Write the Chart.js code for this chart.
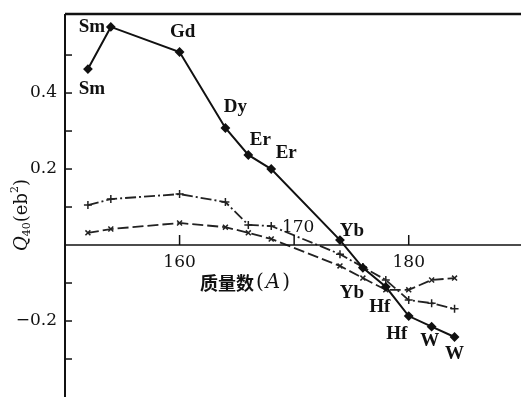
<!DOCTYPE html>
<html>
<head>
<meta charset="utf-8">
<script src="https://cdn.jsdelivr.net/npm/chart.js@4/dist/chart.umd.min.js"></script>
<style>
    html, body { margin: 0; padding: 0; background: #ffffff; }
    #wrap { width: 521px; height: 397px; }
</style>
</head>
<body>
<div id="wrap"><canvas id="q40Chart" width="521" height="397"></canvas></div>
<script>

// Mass number A of each nucleus (same for all three curves)
const massNumbers = [152, 154, 160, 164, 166, 168, 174, 176, 178, 180, 182, 184];

// Experimental Q40 (solid line, filled markers)
const q40Measured = [0.463, 0.574, 0.508, 0.308, 0.237, 0.2, 0.013, -0.06, -0.11, -0.187, -0.215, -0.242];

// Calculated Q40, upper curve (dash-dot, + markers)
const q40CalcPlus = [0.105, 0.121, 0.134, 0.113, 0.053, 0.05, -0.024, -0.058, -0.092, -0.145, -0.153, -0.168];

// Calculated Q40, lower curve (dashed, x markers)
const q40CalcCross = [0.032, 0.042, 0.058, 0.047, 0.032, 0.016, -0.055, -0.087, -0.118, -0.118, -0.092, -0.087];

// Element names written next to the measured points
const elementNames = ['Sm', 'Sm', 'Gd', 'Dy', 'Er', 'Er', 'Yb', 'Yb', 'Hf', 'Hf', 'W', 'W'];

// Axis ticks
const xTickValues = [160, 170, 180];
const xTickLabels = ['160', '170', '180'];
const yTickValues = [-0.3, -0.2, -0.1, 0.1, 0.2, 0.3, 0.4, 0.5];
const yLabelValues = [0.4, 0.2, -0.2];
const yLabelTexts = ['0.4', '0.2', '\u22120.2'];

const xTitle = '质量数';


function toPoints(xs, ys) {
    // Pair up x and y arrays for a scatter dataset
    return xs.map((x, i) => ({ x: x, y: ys[i] }));
}


// Pixel offsets of each element name from its point (layout only)
const nameOffsets = [[4, 20], [-19, 0], [3, -20], [10, -21], [12, -15], [15, -16],
                     [12, -9], [-11, 25], [-6, 20], [-12, 18], [-2, 14], [0, 17]];

const serif = '"DejaVu Serif", "Liberation Serif", serif';

const frameAndText = {
    id: 'frameAndText',
    afterDraw(chart) {
        const ctx = chart.ctx;
        const xs = chart.scales.x;
        const ys = chart.scales.y;
        const area = chart.chartArea;
        const y0 = ys.getPixelForValue(0);

        ctx.save();
        ctx.strokeStyle = '#111';
        ctx.fillStyle = '#111';

        // top border
        ctx.lineWidth = 2.5;
        ctx.beginPath();
        ctx.moveTo(area.left, area.top);
        ctx.lineTo(area.right, area.top);
        ctx.stroke();

        // left axis
        ctx.lineWidth = 2;
        ctx.beginPath();
        ctx.moveTo(area.left, area.top);
        ctx.lineTo(area.left, area.bottom);
        ctx.stroke();

        // horizontal axis at Q40 = 0
        ctx.lineWidth = 1.5;
        ctx.beginPath();
        ctx.moveTo(area.left, y0);
        ctx.lineTo(area.right, y0);
        ctx.stroke();

        // y ticks (pointing inward)
        ctx.lineWidth = 1.5;
        yTickValues.forEach(v => {
            const py = ys.getPixelForValue(v);
            ctx.beginPath();
            ctx.moveTo(area.left, py);
            ctx.lineTo(area.left + 7, py);
            ctx.stroke();
        });

        ctx.font = '17px ' + serif;
        ctx.textAlign = 'right';
        ctx.textBaseline = 'middle';
        yLabelValues.forEach((v, i) => {
            ctx.fillText(yLabelTexts[i], area.left - 8, ys.getPixelForValue(v));
        });

        // x ticks (pointing up from the axis)
        xTickValues.forEach(v => {
            const px = xs.getPixelForValue(v);
            ctx.beginPath();
            ctx.moveTo(px, y0);
            ctx.lineTo(px, y0 - 10);
            ctx.stroke();
        });

        ctx.textAlign = 'center';
        xTickValues.forEach((v, i) => {
            const px = xs.getPixelForValue(v);
            // 170 sits above the axis, the others below
            const py = v === 170 ? y0 - 17 : y0 + 18;
            ctx.fillText(xTickLabels[i], v === 170 ? px + 4 : px, py);
        });

        // x title: 质量数(A)
        ctx.textAlign = 'left';
        let tx = 200;
        const ty = 283;
        ctx.font = 'bold 18px "Noto Sans CJK SC", sans-serif';
        ctx.fillText(xTitle, tx, ty);
        tx += ctx.measureText(xTitle).width + 2;
        ctx.font = '20px ' + serif;
        ctx.fillText('(', tx, ty);
        tx += ctx.measureText('(').width + 2;
        ctx.font = 'italic 20px ' + serif;
        ctx.fillText('A', tx, ty);
        tx += ctx.measureText('A').width + 2;
        ctx.font = '20px ' + serif;
        ctx.fillText(')', tx, ty);

        // y title: Q40(eb2), rotated
        ctx.save();
        ctx.translate(22, 215);
        ctx.rotate(-Math.PI / 2);
        const parts = [
            { t: 'Q', f: 'italic 18px ' + serif, dy: 0 },
            { t: '40', f: '11px ' + serif, dy: 5 },
            { t: '(eb', f: '18px ' + serif, dy: 0 },
            { t: '2', f: '11px ' + serif, dy: -7 },
            { t: ')', f: '18px ' + serif, dy: 0 }
        ];
        let total = 0;
        parts.forEach(p => { ctx.font = p.f; total += ctx.measureText(p.t).width; });
        let cx = -total / 2;
        ctx.textAlign = 'left';
        parts.forEach(p => {
            ctx.font = p.f;
            ctx.fillText(p.t, cx, p.dy);
            cx += ctx.measureText(p.t).width;
        });
        ctx.restore();

        // element names next to measured points
        ctx.font = 'bold 19px "Liberation Serif", "DejaVu Serif", serif';
        ctx.textAlign = 'center';
        elementNames.forEach((name, i) => {
            const px = xs.getPixelForValue(massNumbers[i]) + nameOffsets[i][0];
            const py = ys.getPixelForValue(q40Measured[i]) + nameOffsets[i][1];
            ctx.fillText(name, px, py);
        });

        ctx.restore();
    }
};


const ctx = document.getElementById('q40Chart').getContext('2d');

new Chart(ctx, {
    type: 'scatter',
    data: {
        datasets: [
            {
                label: 'measured',
                data: toPoints(massNumbers, q40Measured),
                showLine: true,
                borderColor: '#111',
                backgroundColor: '#111',
                borderWidth: 2,
                pointStyle: 'rectRot',
                pointRadius: 3.5,
                tension: 0
            },
            {
                label: 'calc +',
                data: toPoints(massNumbers, q40CalcPlus),
                showLine: true,
                borderColor: '#222',
                backgroundColor: '#222',
                borderWidth: 1.8,
                borderDash: [11, 3, 2, 3],
                pointStyle: 'cross',
                pointRadius: 4,
                pointBorderWidth: 1.5,
                tension: 0
            },
            {
                label: 'calc x',
                data: toPoints(massNumbers, q40CalcCross),
                showLine: true,
                borderColor: '#222',
                backgroundColor: '#222',
                borderWidth: 1.8,
                borderDash: [11, 4],
                pointStyle: 'crossRot',
                pointRadius: 3.5,
                pointBorderWidth: 1.5,
                tension: 0
            }
        ]
    },
    options: {
        responsive: false,
        animation: false,
        layout: { autoPadding: false, padding: { left: 65, top: 14, right: 0, bottom: 0 } },
        plugins: {
            legend: { display: false },
            tooltip: { enabled: false }
        },
        scales: {
            x: { type: 'linear', min: 150, max: 189.8, display: false },
            y: { type: 'linear', min: -0.4, max: 0.608, display: false }
        }
    },
    plugins: [frameAndText]
});

</script>
</body>
</html>
